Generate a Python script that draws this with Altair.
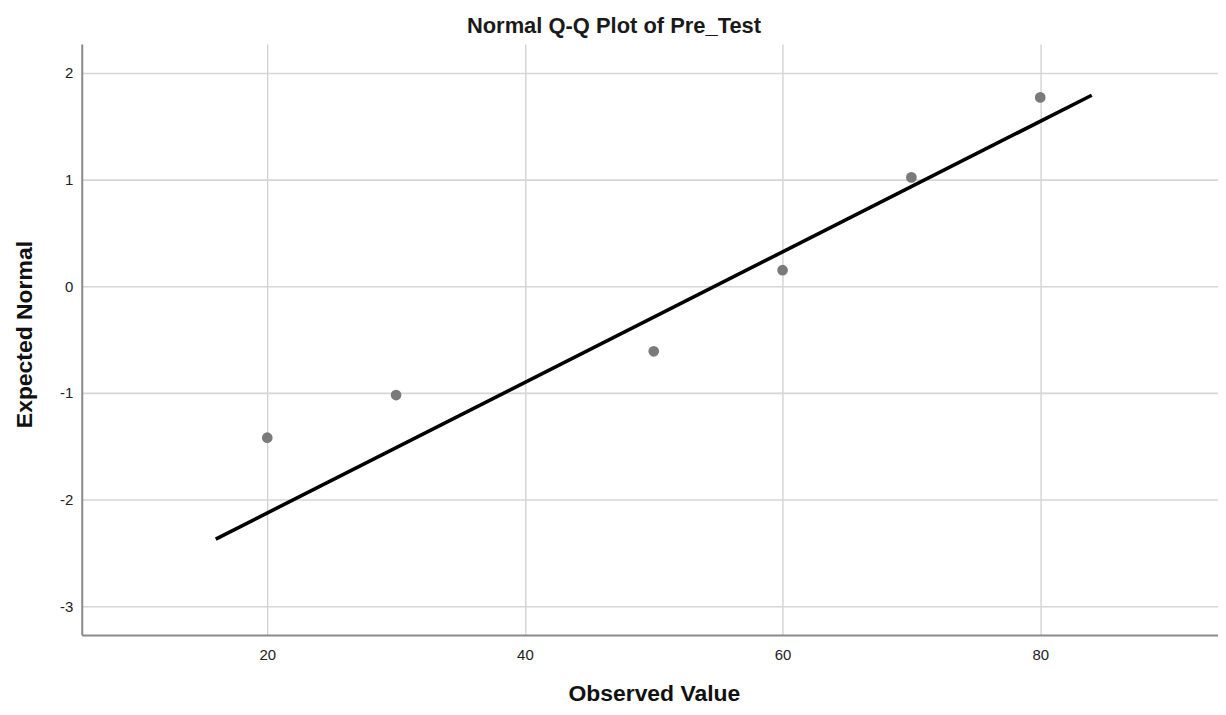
import altair as alt
import pandas as pd

observed = [20, 30, 50, 60, 70, 80]
expected = [-1.42, -1.02, -0.61, 0.15, 1.02, 1.77]

# Reference line end points
line_x = [16, 84]
line_y = [-2.37, 1.79]

x_ticks = [20, 40, 60, 80]
y_ticks = [-3, -2, -1, 0, 1, 2]

pts = pd.DataFrame({"Observed": observed, "Expected": expected})
ref = pd.DataFrame({"Observed": line_x, "Expected": line_y})

xscale = alt.Scale(domain=[5.6, 93.8], nice=False, zero=False)
yscale = alt.Scale(domain=[-3.27, 2.27], nice=False, zero=False)

xaxis = alt.Axis(
    title="Observed Value", values=x_ticks, ticks=False, labelPadding=12,
    labelExpr="'' + datum.value",
    labelFontSize=15, labelColor="#222222", labelFont="Liberation Sans",
    titleFontSize=23, titleFontWeight="bold", titleFont="Liberation Sans",
    titleColor="#111111", titleX=574, titleY=59, titleBaseline="middle",
    titleAnchor="start", titleAlign="center",
    domainColor="#8a8a8a", domainWidth=2, gridColor="#cfcfcf", gridWidth=1.3,
)
yaxis = alt.Axis(
    title="Expected Normal", values=y_ticks, ticks=False, labelPadding=9,
    labelExpr="'' + datum.value",
    labelFontSize=15, labelColor="#222222", labelFont="Liberation Sans",
    titleFontSize=23, titleFontWeight="bold", titleFont="Liberation Sans",
    titleColor="#111111", titleX=-57, titleY=291, titleAngle=-90,
    titleBaseline="middle", titleAlign="center",
    domainColor="#8a8a8a", domainWidth=2, gridColor="#d6d6d6", gridWidth=1.6,
)

points = alt.Chart(pts).mark_circle(size=115, color="#7a7a7a", opacity=1).encode(
    x=alt.X("Observed:Q", scale=xscale, axis=xaxis),
    y=alt.Y("Expected:Q", scale=yscale, axis=yaxis),
)

line = alt.Chart(ref).mark_line(color="#000000", strokeWidth=3.6).encode(
    x=alt.X("Observed:Q", scale=xscale),
    y=alt.Y("Expected:Q", scale=yscale),
)

chart = alt.layer(line, points).properties(
    width=1140,
    height=593,
    autosize=alt.AutoSizeParams(type="none"),
    padding={"left": 74, "top": 35, "right": 0, "bottom": 72},
    title=alt.TitleParams(
        "Normal Q-Q Plot of Pre_Test", fontSize=22, fontWeight="bold",
        font="Liberation Sans", color="#1a1a1a", anchor="middle",
        dx=-36, offset=6,
    ),
).configure_view(stroke=None)

chart.save("out.html", embed_options={"renderer": "svg", "actions": False})
